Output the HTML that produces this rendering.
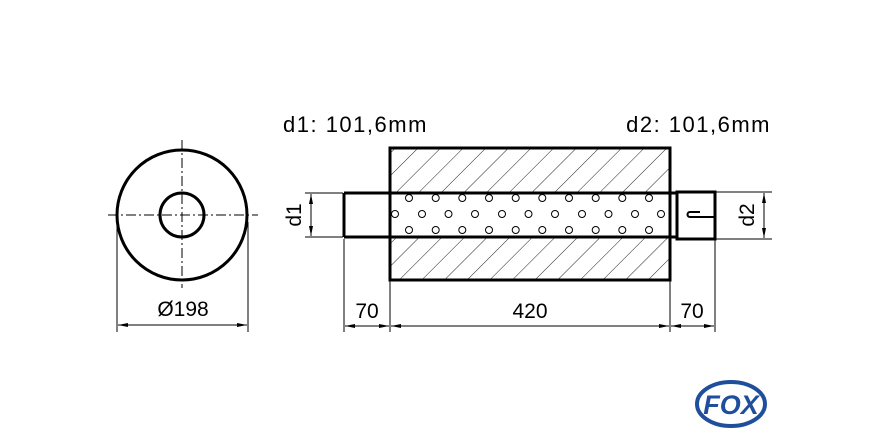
<!DOCTYPE html>
<html><head><meta charset="utf-8"><style>html,body{margin:0;padding:0;background:#fff}svg{display:block}</style></head>
<body>
<svg width="880" height="440" viewBox="0 0 880 440" xmlns="http://www.w3.org/2000/svg" font-family="Liberation Sans, sans-serif">
<defs>
<pattern id="h" patternUnits="userSpaceOnUse" width="16" height="16" patternTransform="rotate(45)">
<line x1="0" y1="0" x2="0" y2="16" stroke="#222" stroke-width="1"/>
</pattern>
<marker id="a" viewBox="0 0 10 4" refX="10" refY="2" markerWidth="10" markerHeight="4" orient="auto-start-reverse" markerUnits="userSpaceOnUse"><path d="M0,0L10,2L0,4z" fill="#000"/></marker>
</defs>
<g stroke="#000" fill="none">
<circle cx="182" cy="215" r="65" stroke-width="3"/>
<circle cx="182" cy="215" r="22" stroke-width="3"/>
<line x1="108" y1="215" x2="258" y2="215" stroke-width="1" stroke-dasharray="10,3,2,3"/>
<line x1="182" y1="140" x2="182" y2="288" stroke-width="1" stroke-dasharray="10,3,2,3"/>
<line x1="117" y1="222" x2="117" y2="332" stroke-width="1"/>
<line x1="248" y1="222" x2="248" y2="332" stroke-width="1"/>
<line x1="118" y1="325" x2="247" y2="325" stroke-width="1" marker-start="url(#a)" marker-end="url(#a)"/>
</g>
<text x="183" y="316" font-size="21" text-anchor="middle">Ø198</text>
<rect x="390" y="148" width="280" height="45" fill="url(#h)"/>
<rect x="390" y="237" width="280" height="43" fill="url(#h)"/>
<g fill="none" stroke="#000" stroke-width="1">
<circle cx="409" cy="198" r="3.5"/><circle cx="435.7" cy="198" r="3.5"/><circle cx="462.3" cy="198" r="3.5"/><circle cx="489" cy="198" r="3.5"/><circle cx="515.7" cy="198" r="3.5"/><circle cx="542.3" cy="198" r="3.5"/><circle cx="569" cy="198" r="3.5"/><circle cx="595.7" cy="198" r="3.5"/><circle cx="622.3" cy="198" r="3.5"/><circle cx="649" cy="198" r="3.5"/>
<circle cx="409" cy="230" r="3.5"/><circle cx="435.7" cy="230" r="3.5"/><circle cx="462.3" cy="230" r="3.5"/><circle cx="489" cy="230" r="3.5"/><circle cx="515.7" cy="230" r="3.5"/><circle cx="542.3" cy="230" r="3.5"/><circle cx="569" cy="230" r="3.5"/><circle cx="595.7" cy="230" r="3.5"/><circle cx="622.3" cy="230" r="3.5"/><circle cx="649" cy="230" r="3.5"/>
<circle cx="395" cy="214" r="3.5"/><circle cx="422" cy="214" r="3.5"/><circle cx="448.5" cy="214" r="3.5"/><circle cx="475" cy="214" r="3.5"/><circle cx="502" cy="214" r="3.5"/><circle cx="528.5" cy="214" r="3.5"/><circle cx="555" cy="214" r="3.5"/><circle cx="582" cy="214" r="3.5"/><circle cx="608.5" cy="214" r="3.5"/><circle cx="635" cy="214" r="3.5"/><circle cx="661" cy="214" r="3.5"/>
</g>
<g fill="none" stroke="#000" stroke-width="3">
<rect x="390" y="148" width="280" height="132"/>
<line x1="344" y1="193" x2="677" y2="193"/>
<line x1="344" y1="237" x2="677" y2="237"/>
<line x1="344" y1="193" x2="344" y2="237"/>
<rect x="677" y="192" width="38" height="47"/>
<path d="M700,212 H690 A2.5,2.5 0 0 0 690,217 H715" stroke-width="2"/>
</g>
<g stroke="#000" stroke-width="1" fill="none">
<line x1="305" y1="193" x2="343" y2="193"/><line x1="305" y1="237" x2="343" y2="237"/>
<line x1="311" y1="194" x2="311" y2="236" marker-start="url(#a)" marker-end="url(#a)"/>
<line x1="716" y1="192" x2="772" y2="192"/><line x1="716" y1="239" x2="772" y2="239"/>
<line x1="764" y1="193" x2="764" y2="238" marker-start="url(#a)" marker-end="url(#a)"/>
<line x1="344" y1="239" x2="344" y2="332"/>
<line x1="390" y1="281" x2="390" y2="332"/>
<line x1="670" y1="281" x2="670" y2="332"/>
<line x1="715" y1="240" x2="715" y2="332"/>
<line x1="345" y1="326" x2="389" y2="326" marker-start="url(#a)" marker-end="url(#a)"/>
<line x1="391" y1="326" x2="669" y2="326" marker-start="url(#a)" marker-end="url(#a)"/>
<line x1="671" y1="326" x2="714" y2="326" marker-start="url(#a)" marker-end="url(#a)"/>
</g>
<text x="367" y="318" font-size="21" text-anchor="middle">70</text>
<text x="530" y="318" font-size="21" text-anchor="middle">420</text>
<text x="692" y="318" font-size="21" text-anchor="middle">70</text>
<text transform="translate(301,215) rotate(-90)" font-size="21" text-anchor="middle">d1</text>
<text transform="translate(754,215) rotate(-90)" font-size="21" text-anchor="middle">d2</text>
<text x="283" y="132" font-size="22" letter-spacing="1.5">d1: 101,6mm</text>
<text x="771" y="132" font-size="22" letter-spacing="1.5" text-anchor="end">d2: 101,6mm</text>
<ellipse cx="731" cy="404" rx="34" ry="22" fill="#fff" stroke="#1f4e9c" stroke-width="4"/>
<text x="731" y="414" font-size="27" font-weight="bold" font-style="italic" fill="#1f4e9c" text-anchor="middle">FOX</text>
</svg>
</body></html>
